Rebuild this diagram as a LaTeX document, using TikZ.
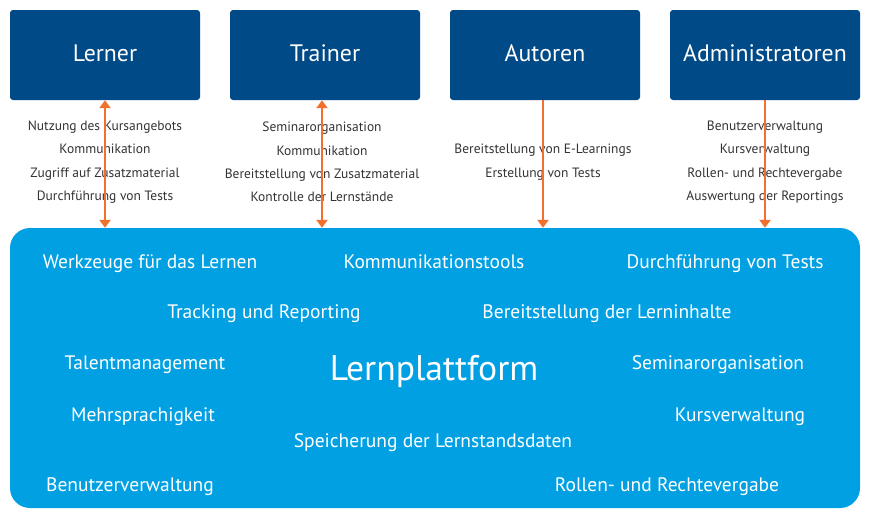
\documentclass[tikz,border=0pt]{standalone}
\usepackage{fontspec}
\setmainfont{PT Sans}
\usetikzlibrary{arrows.meta,positioning}
\definecolor{lpDark}{HTML}{004A87}
\definecolor{lpSky}{HTML}{00A0E3}
\definecolor{lpOrange}{HTML}{F36F2E}
\definecolor{lpText}{HTML}{333333}
\tikzset{
  % Roles above the platform.
  lp/role/.style={
    draw=none, fill=lpDark, rounded corners=3pt, text=white,
    minimum width=190pt, minimum height=90pt, inner sep=0pt,
    text depth=4pt, font=\fontsize{23.8}{28}\selectfont
  },
  % The platform itself.
  lp/base/.style={
    draw=none, fill=lpSky, rounded corners=20pt,
    minimum width=850pt, minimum height=280pt, inner sep=0pt
  },
  % Features inside the platform, placed on their baseline.
  lp/feat/.style={
    text=white, inner sep=0pt, anchor=base, font=\fontsize{19.5}{23}\selectfont
  },
  % Task lists under the roles.
  lp/tasks/.style={
    text=lpText, align=center, inner sep=0pt,
    font=\fontsize{13.5}{23.4}\selectfont
  },
  % Arrows.
  lp/arrow/.style={
    -{Triangle[length=8pt,width=11pt]}, line width=2pt, draw=lpOrange
  },
  lp/arrowB/.style={
    lp/arrow, {Triangle[length=8pt,width=11pt]}-{Triangle[length=8pt,width=11pt]}
  },
}

\begin{document}
\begin{tikzpicture}[x=1pt,y=-1pt]
  \useasboundingbox (0,0) rectangle (870,520);
  \node[lp/role] (lerner)  at (105,55) {Lerner};
  \node[lp/role] (trainer) at (325,55) {Trainer};
  \node[lp/role] (autoren) at (545,55) {Autoren};
  \node[lp/role] (admin)   at (765,55) {Administratoren};
  \node[lp/base] (plat)    at (435,368) {};
  % tasks per role
  \node[lp/tasks] (tLerner) at (105,162)
       {Nutzung des Kursangebots\\Kommunikation\\Zugriff auf Zusatzmaterial\\Durchführung von Tests};
  \node[lp/tasks] (tTrainer) at (322,162)
       {Seminarorganisation\\Kommunikation\\Bereitstellung von Zusatzmaterial\\Kontrolle der Lernstände};
  \node[lp/tasks] (tAutoren) at (543,162)
       {Bereitstellung von E-Learnings\\Erstellung von Tests};
  \node[lp/tasks] (tAdmin) at (765,162)
       {Benutzerverwaltung\\Kursverwaltung\\Rollen- und Rechtevergabe\\Auswertung der Reportings};
  \draw[lp/arrowB] (lerner.south) -- (lerner.south |- plat.north);
  \draw[lp/arrowB] ([xshift=-3pt]trainer.south) -- ([xshift=-3pt]trainer.south |- plat.north);
  \draw[lp/arrow] ([xshift=-2pt]autoren.south) -- ([xshift=-2pt]autoren.south |- plat.north);
  \draw[lp/arrow] (admin.south) -- (admin.south |- plat.north);
  % features
  \node[lp/feat] (werk)  at (150,268) {Werkzeuge für das Lernen};
  \node[lp/feat] (komm)  at (434,268) {Kommunikationstools};
  \node[lp/feat] (durch) at (725,268) {Durchführung von Tests};
  \node[lp/feat] (track) at (264,318) {Tracking und Reporting};
  \node[lp/feat] (bereit) at (607,318) {Bereitstellung der Lerninhalte};
  \node[lp/feat] (talent) at (145,369) {Talentmanagement};
  \node[lp/feat, font=\fontsize{35.6}{40}\selectfont] (titel) at (434,380) {Lernplattform};
  \node[lp/feat] (semi)  at (718,369) {Seminarorganisation};
  \node[lp/feat] (mehr)  at (143,421) {Mehrsprachigkeit};
  \node[lp/feat] (kurs)  at (740,421) {Kursverwaltung};
  \node[lp/feat] (speich) at (433,447) {Speicherung der Lernstandsdaten};
  \node[lp/feat] (benutz) at (130,491) {Benutzerverwaltung};
  \node[lp/feat] (rollen) at (667,491) {Rollen- und Rechtevergabe};
\end{tikzpicture}
\end{document}
